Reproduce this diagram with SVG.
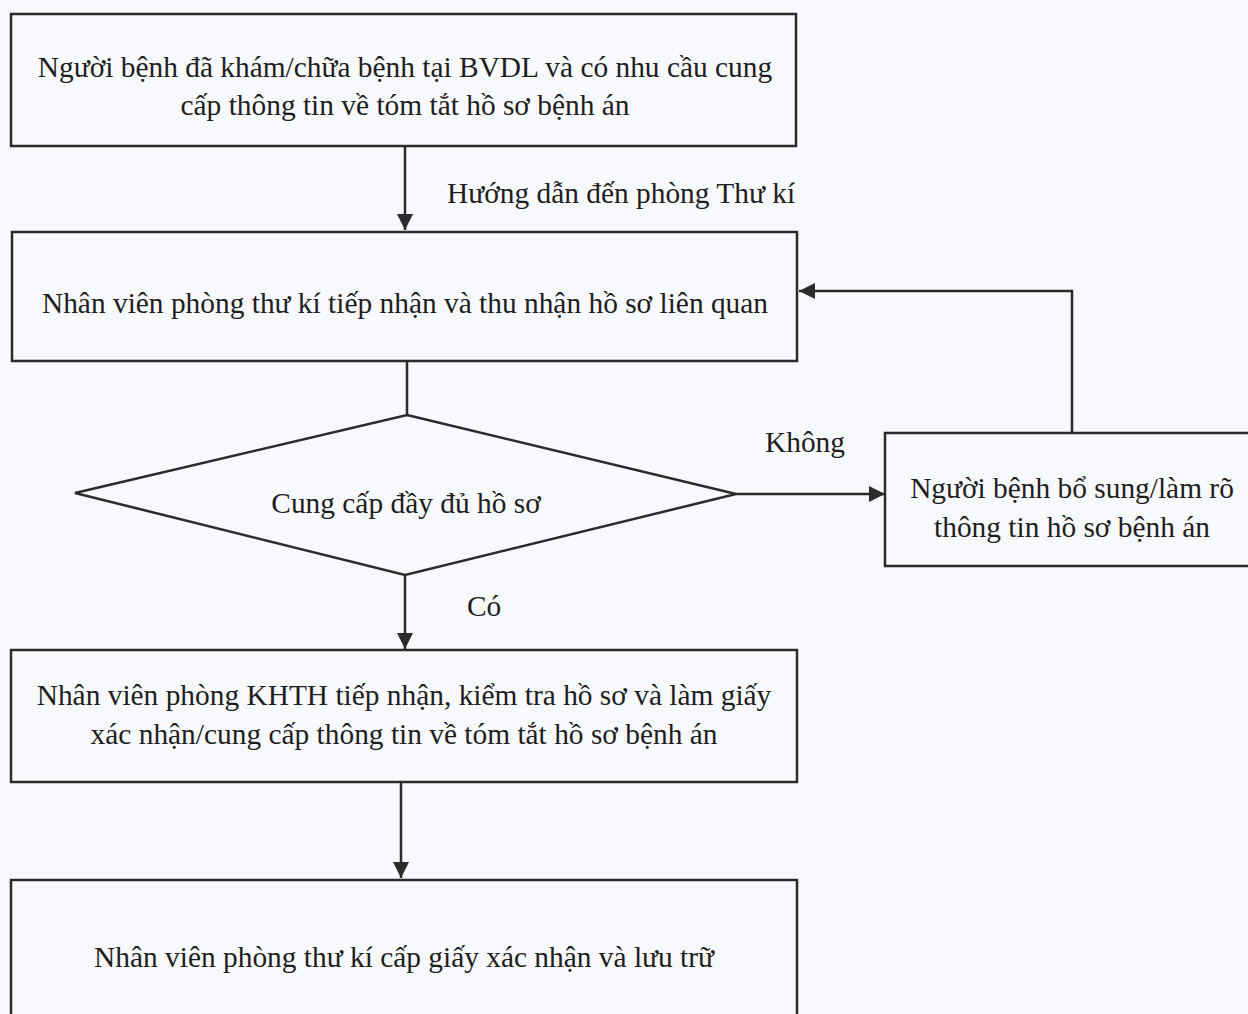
<svg xmlns="http://www.w3.org/2000/svg" width="1248" height="1014" viewBox="0 0 1248 1014">
<style>
.box{fill:none;stroke:#2b2b2b;stroke-width:2.5}
.ln{fill:none;stroke:#2b2b2b;stroke-width:2.5}
text{font-family:"Liberation Serif","Times New Roman",serif;font-size:29.4px;fill:#1e1e1e;text-anchor:middle}
.lbl{text-anchor:start}
</style>
<defs>
<marker id="ah2" viewBox="0 0 10 10" refX="10" refY="5" markerWidth="6.5" markerHeight="6.5" orient="auto">
<path d="M0,0 L10,5 L0,10 z" fill="#2b2b2b"/>
</marker>
</defs>
<rect width="1248" height="1014" fill="#f8f9fc"/>
<g id="connectors">
<line class="ln" x1="405" y1="146" x2="405" y2="230" marker-end="url(#ah2)"/>
<line class="ln" x1="407" y1="361" x2="407" y2="415"/>
<line class="ln" x1="736" y1="494" x2="885" y2="494" marker-end="url(#ah2)"/>
<polyline class="ln" points="1072,433 1072,291 799,291" marker-end="url(#ah2)"/>
<line class="ln" x1="405" y1="575" x2="405" y2="649" marker-end="url(#ah2)"/>
<line class="ln" x1="401" y1="782" x2="401" y2="878" marker-end="url(#ah2)"/>
<text class="lbl" x="447" y="203">Hướng dẫn đến phòng Thư kí</text>
<text class="lbl" x="765" y="452">Không</text>
<text class="lbl" x="467" y="616">Có</text>
</g>
<g id="n1">
<rect class="box" x="11" y="14" width="785" height="132"/>
<text x="405" y="77">Người bệnh đã khám/chữa bệnh tại BVDL và có nhu cầu cung</text>
<text x="405" y="115">cấp thông tin về tóm tắt hồ sơ bệnh án</text>
</g>
<g id="n2">
<rect class="box" x="12" y="232" width="785" height="129"/>
<text x="405" y="313">Nhân viên phòng thư kí tiếp nhận và thu nhận hồ sơ liên quan</text>
</g>
<g id="n3">
<polygon class="box" points="407,415 736,494 405,575 75,493"/>
<text x="406" y="513">Cung cấp đầy đủ hồ sơ</text>
</g>
<g id="n4">
<rect class="box" x="885" y="433" width="370" height="133"/>
<text x="1072" y="498">Người bệnh bổ sung/làm rõ</text>
<text x="1072" y="537">thông tin hồ sơ bệnh án</text>
</g>
<g id="n5">
<rect class="box" x="11" y="650" width="786" height="132"/>
<text x="404" y="705">Nhân viên phòng KHTH tiếp nhận, kiểm tra hồ sơ và làm giấy</text>
<text x="404" y="744">xác nhận/cung cấp thông tin về tóm tắt hồ sơ bệnh án</text>
</g>
<g id="n6">
<rect class="box" x="11" y="880" width="786" height="150"/>
<text x="404" y="967">Nhân viên phòng thư kí cấp giấy xác nhận và lưu trữ</text>
</g>
</svg>
